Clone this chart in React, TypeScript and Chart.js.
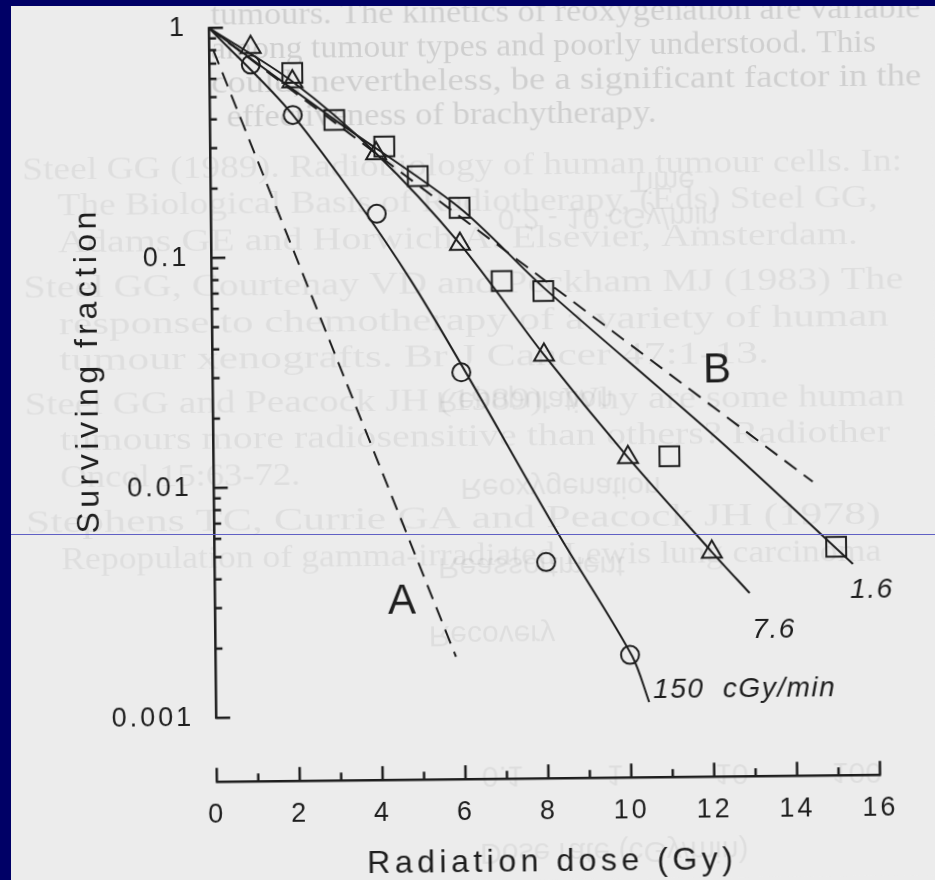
import React, { useEffect, useRef } from 'react';
import { Chart, registerables } from 'chart.js';

Chart.register(...registerables);

// ---- Measured surviving fractions (open symbols) ----
// 150 cGy/min (circles)
const DOSE_150 = [1, 2, 4, 6, 8, 10];
const SF_150 = [0.69, 0.415, 0.153, 0.031, 0.0046, 0.0018];
// 7.6 cGy/min (triangles)
const DOSE_7_6 = [1, 2, 4, 6, 8, 10, 12];
const SF_7_6 = [0.82, 0.58, 0.28, 0.112, 0.0366, 0.013, 0.005];
// 1.6 cGy/min (squares)
const DOSE_1_6 = [2, 3, 4.2, 5, 6, 7, 8, 11, 15];
const SF_1_6 = [0.632, 0.393, 0.3, 0.222, 0.161, 0.077, 0.0694, 0.0131, 0.0052];

// ---- Fitted survival curves (solid) ----
const FIT_DOSE_150 = [0, 2, 4.8, 8.3, 10.05, 10.45];
const FIT_SF_150 = [1, 0.415, 0.0786, 0.0061, 0.00178, 0.00112];
const FIT_DOSE_7_6 = [0, 2, 4, 6, 8, 10, 12, 12.9];
const FIT_SF_7_6 = [1, 0.58, 0.28, 0.112, 0.0366, 0.013, 0.005, 0.0033];
const FIT_DOSE_1_6 = [0, 3, 6, 8, 12.2, 15.4];
const FIT_SF_1_6 = [1, 0.395, 0.161, 0.072, 0.0153, 0.00437];

// ---- Limiting slopes (dashed): A and B ----
const LIMIT_DOSE_A = [0.1, 5.8];
const LIMIT_SF_A = [0.8, 0.0018];
const LIMIT_DOSE_B = [0, 14.45];
const LIMIT_SF_B = [1, 0.01];

// ---- Axes ----
const X_TICKS = [0, 2, 4, 6, 8, 10, 12, 14, 16];
const X_MINOR = [1, 3, 5, 7, 9, 11, 13, 15];
const Y_TICKS = [0.001, 0.01, 0.1, 1];
const Y_MINOR_STEPS = [2, 3, 4, 5, 6, 7, 8, 9];
const X_TITLE = 'Radiation dose (Gy)';
const Y_TITLE = 'Surviving fraction';

// ---- Curve annotations ----
const CURVE_LABELS = ['A', 'B', '1.6', '7.6', '150  cGy/min'];
const LABEL_DOSE = [4.51, 12.17, 15.85, 13.48, 10.55];
const LABEL_SF = [0.00313, 0.0306, 0.00336, 0.00228, 0.00126];

// Faint print from the surrounding page
const PAGE_LINES = [
  'tumours. The kinetics of reoxygenation are variable',
  'among tumour types and poorly understood. This',
  'could, nevertheless, be a significant factor in the',
  'effectiveness of brachytherapy.',
  'Steel GG (1989). Radiobiology of human tumour cells. In:',
  'The Biological Basis of Radiotherapy, (Eds) Steel GG,',
  'Adams GE and Horwich A. Elsevier, Amsterdam.',
  'Steel GG, Courtenay VD and Peckham MJ (1983) The',
  'response to chemotherapy of a variety of human',
  'tumour xenografts. Br J Cancer 47:1-13.',
  'Steel GG and Peacock JH (1989). Why are some human',
  'tumours more radiosensitive than others? Radiother',
  'Oncol 15:63-72.',
  'Stephens TC, Currie GA and Peacock JH (1978)',
  'Repopulation of gamma-irradiated Lewis lung carcinoma',
];
// [left, centre y, right, opacity]
const PAGE_LINE_BOX: [number, number, number, number][] = [
  [215, 14, 925, 0.12],
  [215, 48, 880, 0.12],
  [215, 82, 925, 0.12],
  [230, 116, 660, 0.12],
  [25, 167, 905, 0.06],
  [60, 203, 880, 0.06],
  [60, 240, 860, 0.06],
  [25, 285, 905, 0.06],
  [60, 322, 890, 0.06],
  [60, 358, 770, 0.06],
  [25, 402, 905, 0.06],
  [60, 438, 890, 0.06],
  [60, 475, 300, 0.06],
  [25, 520, 880, 0.06],
  [60, 557, 880, 0.06],
];
// Show-through from the reverse side (flipped)
const REVERSE_WORDS = [
  'Time',
  '0.2 - 10 cGy/min',
  'Repopulation',
  'Reoxygenation',
  'Reassortment',
  'Recovery',
  '0.1          1           10          100        1000',
  'Dose rate (cGy/min)',
];
// [centre x, centre y]
const REVERSE_POS: [number, number][] = [
  [665, 182],
  [610, 218],
  [525, 400],
  [560, 487],
  [530, 566],
  [490, 634],
  [745, 775],
  [610, 852],
];

// Plot area inside the 935x880 canvas
const AREA = { left: 213.3, right: 876.5, top: 25.3, bottom: 715.3 };

const INK = '#1e1e1e';
const PAPER = '#ececec';
const NAVY = '#000066';
const SANS = '"Liberation Sans", Arial, Helvetica, sans-serif';
const SERIF = '"Liberation Serif", "Times New Roman", serif';

const pts = (xs: number[], ys: number[]) => xs.map((x, i) => ({ x, y: ys[i] }));

const figurePlugin = {
  id: 'figure',
  beforeDraw(chart: any) {
    const { ctx, width, height } = chart;
    ctx.save();
    ctx.fillStyle = PAPER;
    ctx.fillRect(0, 0, width, height);
    ctx.fillStyle = '#000';
    ctx.textBaseline = 'middle';
    ctx.textAlign = 'left';
    (ctx as any).letterSpacing = '0px';
    PAGE_LINES.forEach((t, i) => {
      const [l, y, r, a] = PAGE_LINE_BOX[i];
      ctx.font = `32px ${SERIF}`;
      ctx.globalAlpha = a;
      const w = ctx.measureText(t).width;
      ctx.save();
      ctx.translate(l, y);
      ctx.scale((r - l) / w, 1);
      ctx.fillText(t, 0, 0);
      ctx.restore();
    });
    ctx.textAlign = 'center';
    ctx.font = `30px ${SANS}`;
    ctx.globalAlpha = 0.06;
    REVERSE_WORDS.forEach((t, i) => {
      const [cx, cy] = REVERSE_POS[i];
      ctx.save();
      ctx.translate(cx, cy);
      ctx.scale(1, -1);
      ctx.fillText(t, 0, 0);
      ctx.restore();
    });
    ctx.restore();
    // spacing used by the tick labels
    (ctx as any).letterSpacing = '3px';
  },
  afterDraw(chart: any) {
    const { ctx } = chart;
    const xs = chart.scales.x;
    const ys = chart.scales.y;
    ctx.save();
    (ctx as any).letterSpacing = '0px';
    ctx.strokeStyle = INK;
    ctx.fillStyle = INK;
    ctx.lineWidth = 2.5;
    ctx.lineCap = 'butt';

    // vertical axis with inward ticks
    const x0 = xs.getPixelForValue(0);
    const yTop = ys.getPixelForValue(1);
    const yBot = ys.getPixelForValue(0.001);
    ctx.beginPath();
    ctx.moveTo(x0, yTop - 1);
    ctx.lineTo(x0, yBot + 1);
    Y_TICKS.forEach((v) => {
      const p = ys.getPixelForValue(v);
      ctx.moveTo(x0, p);
      ctx.lineTo(x0 + 14, p);
    });
    for (let d = -3; d < 0; d++) {
      Y_MINOR_STEPS.forEach((k) => {
        const p = ys.getPixelForValue(k * Math.pow(10, d));
        ctx.moveTo(x0, p);
        ctx.lineTo(x0 + 7, p);
      });
    }
    ctx.stroke();

    // horizontal axis, detached below the plot
    const axisY = ys.bottom + 64;
    ctx.beginPath();
    ctx.moveTo(xs.getPixelForValue(0) - 1, axisY);
    ctx.lineTo(xs.getPixelForValue(16) + 1, axisY);
    X_TICKS.forEach((v) => {
      const p = xs.getPixelForValue(v);
      ctx.moveTo(p, axisY);
      ctx.lineTo(p, axisY - 14);
    });
    X_MINOR.forEach((v) => {
      const p = xs.getPixelForValue(v);
      ctx.moveTo(p, axisY);
      ctx.lineTo(p, axisY - 8);
    });
    ctx.stroke();

    // axis titles
    (ctx as any).letterSpacing = '4.5px';
    ctx.font = `32px ${SANS}`;
    ctx.textAlign = 'center';
    ctx.textBaseline = 'middle';
    ctx.fillText(X_TITLE, (xs.left + xs.right) / 2 + 3, 863);
    ctx.save();
    ctx.translate(89, (ys.top + ys.bottom) / 2 - 2);
    ctx.rotate(-Math.PI / 2);
    ctx.fillText(Y_TITLE, 2, 0);
    ctx.restore();

    // curve labels
    CURVE_LABELS.forEach((t, i) => {
      const px = xs.getPixelForValue(LABEL_DOSE[i]);
      const py = ys.getPixelForValue(LABEL_SF[i]);
      const letter = /^[A-Z]$/.test(t);
      (ctx as any).letterSpacing = letter ? '0px' : '1.5px';
      ctx.font = letter ? `42px ${SANS}` : `italic 28px ${SANS}`;
      ctx.textAlign = t.length > 4 ? 'left' : 'center';
      ctx.fillText(t, px, py);
    });
    ctx.restore();
  },
};

const noScalePadding = (s: any) => {
  s.paddingLeft = 0;
  s.paddingRight = 0;
  s.paddingTop = 0;
  s.paddingBottom = 0;
};

export default function App() {
  const ref = useRef<HTMLCanvasElement>(null);

  useEffect(() => {
    const canvas = ref.current;
    if (!canvas) return;
    const line = (xs: number[], ys: number[], dash: number[] = [], tension = 0.3) => ({
      type: 'scatter' as const,
      data: pts(xs, ys),
      showLine: true,
      pointRadius: 0,
      borderColor: INK,
      borderWidth: 2,
      borderDash: dash,
      tension,
      fill: false,
    });
    const marks = (xs: number[], ys: number[], style: string, r: number) => ({
      type: 'scatter' as const,
      data: pts(xs, ys),
      showLine: false,
      pointStyle: style,
      pointRadius: r,
      pointHoverRadius: r,
      borderColor: INK,
      backgroundColor: 'rgba(0,0,0,0)',
      borderWidth: 2,
    });

    const chart = new Chart(canvas, {
      type: 'scatter',
      data: {
        datasets: [
          line(FIT_DOSE_150, FIT_SF_150),
          line(FIT_DOSE_7_6, FIT_SF_7_6),
          line(FIT_DOSE_1_6, FIT_SF_1_6),
          line(LIMIT_DOSE_A, LIMIT_SF_A, [15, 9], 0),
          line(LIMIT_DOSE_B, LIMIT_SF_B, [15, 9], 0),
          marks(DOSE_150, SF_150, 'circle', 9),
          marks(DOSE_7_6, SF_7_6, 'triangle', 11.5),
          marks(DOSE_1_6, SF_1_6, 'rect', 14),
        ] as any,
      },
      options: {
        responsive: false,
        animation: false,
        devicePixelRatio: 1,
        events: [],
        layout: { padding: { left: 0, right: 935 - AREA.right, top: AREA.top, bottom: 0 } },
        plugins: { legend: { display: false }, tooltip: { enabled: false } },
        scales: {
          x: {
            type: 'linear',
            min: 0,
            max: 16,
            grid: { display: false, drawTicks: false },
            border: { display: false },
            afterFit: (s: any) => {
              s.height = 880 - AREA.bottom;
              noScalePadding(s);
            },
            afterBuildTicks: (s: any) => {
              s.ticks = X_TICKS.map((v) => ({ value: v }));
            },
            ticks: {
              padding: 81.5,
              color: INK,
              font: { family: SANS, size: 27 },
              maxRotation: 0,
              autoSkip: false,
            },
          },
          y: {
            type: 'logarithmic',
            min: 0.001,
            max: 1,
            grid: { display: false, drawTicks: false },
            border: { display: false },
            afterFit: (s: any) => {
              s.width = AREA.left;
              noScalePadding(s);
            },
            afterBuildTicks: (s: any) => {
              s.ticks = Y_TICKS.map((v) => ({ value: v }));
            },
            ticks: {
              padding: 22,
              color: INK,
              font: { family: SANS, size: 27 },
              autoSkip: false,
              callback: (v: any) => String(v),
            },
          },
        },
      } as any,
      plugins: [figurePlugin],
    });

    // pin the plot area to its intended box
    for (let k = 0; k < 3; k++) {
      const ca = chart.chartArea;
      const p = (chart.options as any).layout.padding;
      const dl = AREA.left - ca.left;
      const dt = AREA.top - ca.top;
      const dr = ca.right - AREA.right;
      const db = ca.bottom - AREA.bottom;
      if (Math.abs(dl) + Math.abs(dt) + Math.abs(dr) + Math.abs(db) < 0.2) break;
      p.left += dl;
      p.top += dt;
      p.right += dr;
      p.bottom += db;
      chart.update();
    }

    return () => chart.destroy();
  }, []);

  return (
    <div
      style={{
        position: 'fixed',
        left: 0,
        top: 0,
        width: 935,
        height: 880,
        overflow: 'hidden',
        background: PAPER,
      }}
    >
      <canvas
        ref={ref}
        width={935}
        height={880}
        style={{
          position: 'absolute',
          left: 0,
          top: 0,
          width: 935,
          height: 880,
          transform: 'rotate(-0.6deg)',
        }}
      />
      <div style={{ position: 'absolute', left: 0, top: 0, width: 935, height: 6, background: NAVY }} />
      <div style={{ position: 'absolute', left: 0, top: 0, width: 11, height: 880, background: NAVY }} />
      <div
        style={{
          position: 'absolute',
          left: 11,
          top: 534,
          width: 924,
          height: 1,
          background: 'rgb(96,96,196)',
        }}
      />
    </div>
  );
}
